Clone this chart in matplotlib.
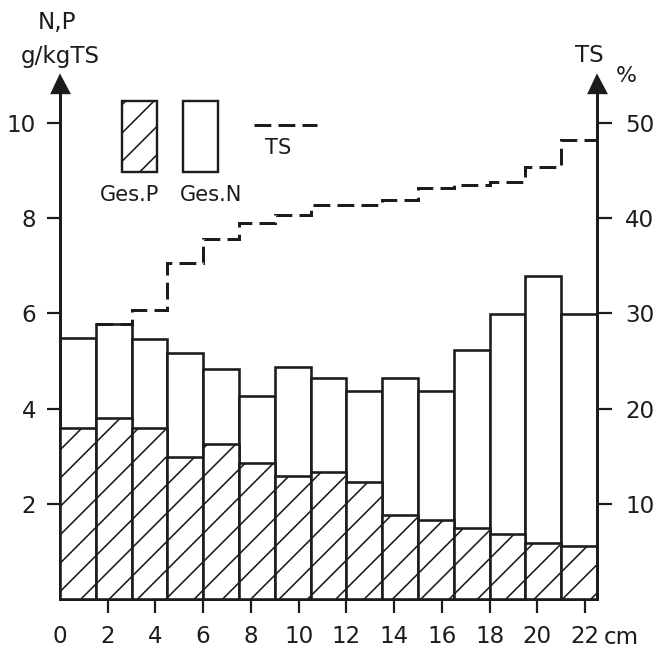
import matplotlib
matplotlib.use("Agg")
import matplotlib.pyplot as plt
from matplotlib.patches import Rectangle
from matplotlib.lines import Line2D
import numpy as np

# Depth profile: total P and N (g/kg dry matter) and dry matter TS (%) per layer
depth_edges = [0, 1.5, 3, 4.5, 6, 7.5, 9, 10.5, 12, 13.5, 15, 16.5, 18, 19.5, 21, 22.5]
ges_n = [5.48, 5.78, 5.46, 5.16, 4.83, 4.26, 4.87, 4.64, 4.36, 4.64, 4.36, 5.24, 5.99, 6.79, 5.99]
ges_p = [3.59, 3.80, 3.59, 2.98, 3.26, 2.86, 2.58, 2.66, 2.46, 1.76, 1.67, 1.49, 1.37, 1.18, 1.12]
ts_pct = [28.9, 30.4, 35.3, 37.8, 39.5, 40.3, 41.4, 41.4, 41.9, 43.2, 43.5, 43.8, 45.4, 48.2]  # from 2nd layer on
x_ticks = [0, 2, 4, 6, 8, 10, 12, 14, 16, 18, 20, 22]
left_ticks = [2, 4, 6, 8, 10]
right_ticks = [10, 20, 30, 40, 50]

DPI = 170
W, H = 656, 648


def pt(px):
    """pixels -> points at the figure resolution"""
    return px * 72.0 / DPI


INK = "#1c1c1c"
plt.rcParams["font.family"] = ["DejaVu Sans"]
plt.rcParams["hatch.linewidth"] = pt(1.6)
plt.rcParams["hatch.color"] = INK

fig = plt.figure(figsize=(W / DPI, H / DPI), dpi=DPI)
fig.patch.set_facecolor("white")

# axes frame in pixel layout
ax_l, ax_r, ax_b, ax_t = 60, 597, 599, 84
ax = fig.add_axes([ax_l / W, (H - ax_b) / H, (ax_r - ax_l) / W, (ax_b - ax_t) / H])
y_top = (ax_b - ax_t) / 47.6
ax.set_xlim(depth_edges[0], depth_edges[-1])
ax.set_ylim(0, y_top)

edges = np.array(depth_edges)
centers = (edges[:-1] + edges[1:]) / 2
widths = np.diff(edges)

bar_lw = pt(2.6)
ax.bar(centers, ges_n, width=widths, facecolor="white", edgecolor=INK,
       linewidth=bar_lw, zorder=2)
ax.bar(centers, ges_p, width=widths, facecolor="white", edgecolor=INK,
       linewidth=bar_lw, hatch="//", zorder=3)

# TS on the right-hand scale (5 % per 1 g/kg)
ax2 = ax.twinx()
ax2.set_ylim(0, y_top * 5)
ts_lw = pt(3.0)
ax2.stairs(ts_pct, edges[1:], baseline=None, fill=False, edgecolor=INK,
           linewidth=ts_lw, linestyle=(0, (5.6, 2.4)), zorder=4)

# spines
for a in (ax, ax2):
    a.spines["top"].set_visible(False)
    for s in ("left", "right", "bottom"):
        a.spines[s].set_linewidth(pt(3.0))
        a.spines[s].set_color(INK)
ax2.spines["left"].set_visible(False)
ax2.spines["bottom"].set_visible(False)
ax.spines["right"].set_visible(False)

fs = pt(23)
ax.set_xticks(x_ticks)
ax.set_xticklabels([str(v) for v in x_ticks])
ax.set_yticks(left_ticks)
ax.set_yticklabels([str(v) for v in left_ticks])
ax2.set_yticks(right_ticks)
ax2.set_yticklabels([str(v) for v in right_ticks])

ax.tick_params(axis="x", direction="out", length=pt(14), width=pt(2.2), pad=pt(12),
               labelsize=fs, colors=INK)
ax.tick_params(axis="y", direction="out", length=pt(13), width=pt(2.2), pad=pt(11),
               labelsize=fs, colors=INK)
ax2.tick_params(axis="y", direction="out", length=pt(15), width=pt(2.2), pad=pt(13),
                labelsize=fs, colors=INK)
ax.xaxis.get_major_ticks()[0].tick1line.set_visible(False)

# arrow heads on the vertical axes
for a, xpos in ((ax, 0), (ax2, 1)):
    a.plot([xpos], [1], marker="^", markersize=pt(17), color=INK,
           transform=a.transAxes, clip_on=False, zorder=6)

# axis titles
fig.text(57 / W, 1 - 22 / H, "N,P", ha="center", va="center", fontsize=fs, color=INK)
fig.text(60 / W, 1 - 57 / H, "g/kgTS", ha="center", va="center", fontsize=fs, color=INK)
fig.text(589 / W, 1 - 55 / H, "TS", ha="center", va="center", fontsize=fs, color=INK)
fig.text(626 / W, 1 - 76 / H, "%", ha="center", va="center", fontsize=pt(22), color=INK)
fig.text(621 / W, 1 - 637 / H, "cm", ha="center", va="center", fontsize=fs, color=INK)


# key
def axfrac(px, py):
    return (px - ax_l) / (ax_r - ax_l), (ax_b - py) / (ax_b - ax_t)


x0, y0 = axfrac(121.7, 171.7)
x1, y1 = axfrac(157.3, 100.7)
ax.add_patch(Rectangle((x0, y0), x1 - x0, y1 - y0, transform=ax.transAxes,
                       facecolor="white", edgecolor=INK, linewidth=pt(2.4),
                       hatch="//", clip_on=False, zorder=5))
x0, _ = axfrac(183.3, 0)
x1, _ = axfrac(217.7, 0)
ax.add_patch(Rectangle((x0, y0), x1 - x0, y1 - y0, transform=ax.transAxes,
                       facecolor="white", edgecolor=INK, linewidth=pt(2.4),
                       clip_on=False, zorder=5))
lfs = pt(21)
tx, ty = axfrac(130, 195)
ax.text(tx, ty, "Ges.P", transform=ax.transAxes, ha="center", va="center",
        fontsize=lfs, color=INK)
tx, ty = axfrac(210.7, 195)
ax.text(tx, ty, "Ges.N", transform=ax.transAxes, ha="center", va="center",
        fontsize=lfs, color=INK)
lx0, ly = axfrac(254, 125)
lx1, _ = axfrac(317, 125)
ax.add_line(Line2D([lx0, lx1], [ly, ly], transform=ax.transAxes, color=INK,
                   linewidth=ts_lw, linestyle=(0, (5.6, 2.4)), clip_on=False))
tx, ty = axfrac(278, 148)
ax.text(tx, ty, "TS", transform=ax.transAxes, ha="center", va="center",
        fontsize=lfs, color=INK)

fig.savefig("out.png", dpi=DPI, facecolor="white")
